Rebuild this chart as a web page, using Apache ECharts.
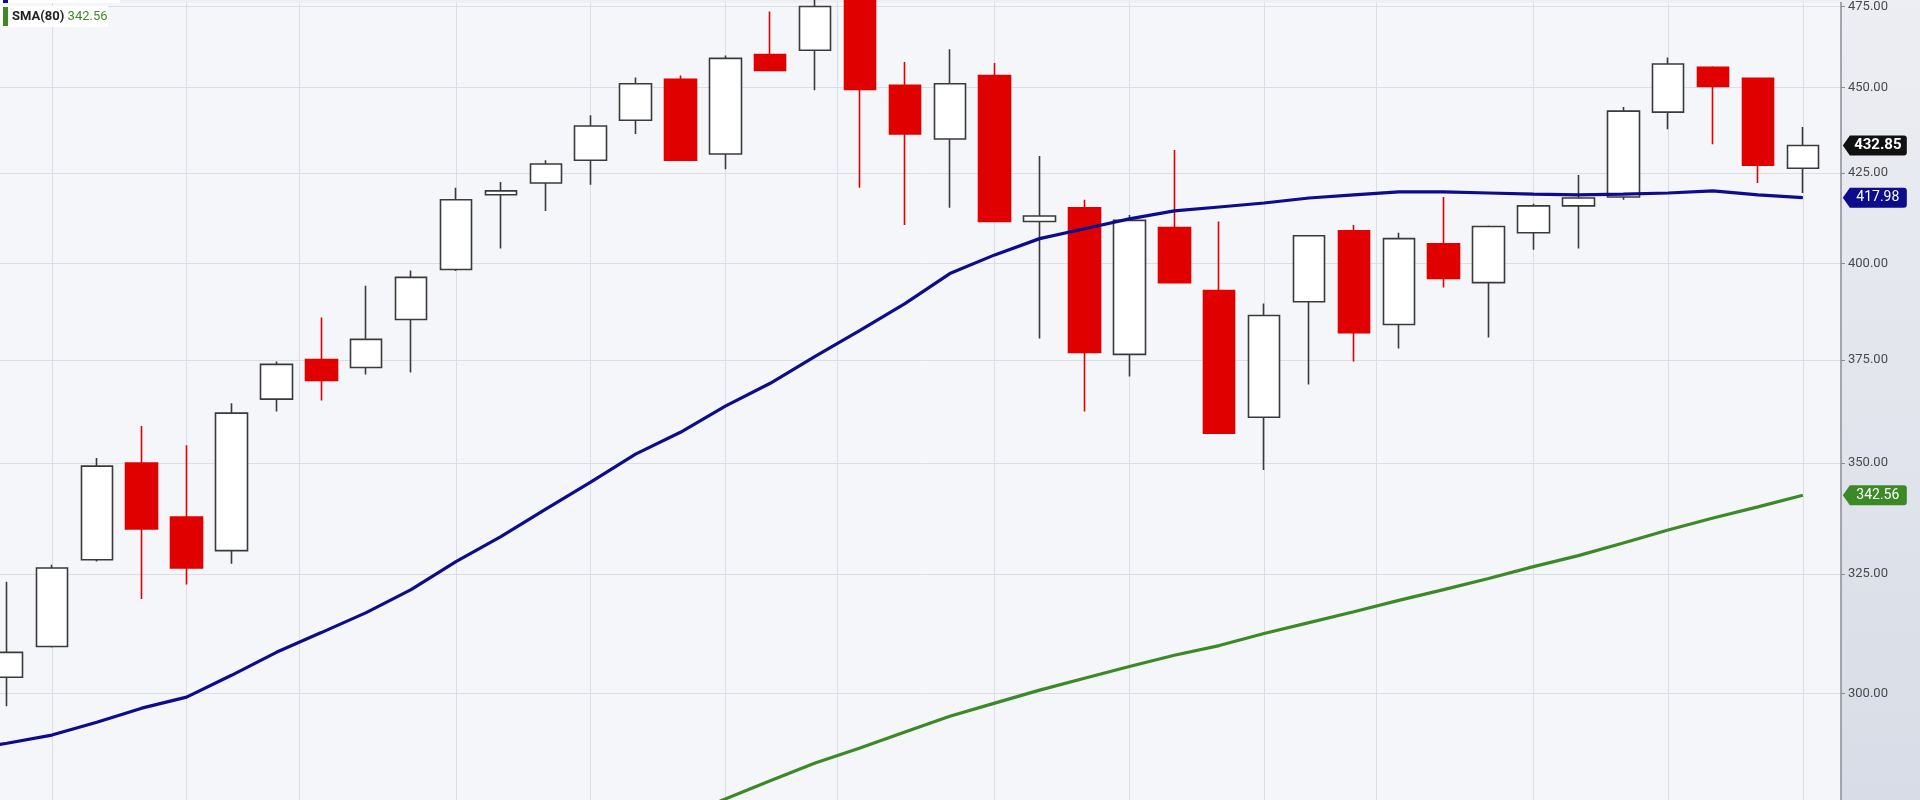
<!DOCTYPE html>
<html><head><meta charset="utf-8">
<script src="https://cdn.jsdelivr.net/npm/echarts@6/dist/echarts.min.js"></script>
<style>
html,body{margin:0;padding:0;}
#c{width:1920px;height:800px;background:linear-gradient(to bottom,#eceef3,#d8dce6);}
</style>
</head><body><div id="c"></div>
<script>
// ---- data (weekly candles, index 0..40) ----
const opens  = [303.3,309.6,328.1,350.0,337.6,330.1,365.3,375.1,373.1,385.3,398.4,418.8,422.1,428.6,440.2,452.4,430.4,460.0,461.3,480.0,450.6,434.7,453.6,411.4,415.2,376.4,409.7,392.8,360.9,389.9,408.8,384.0,405.3,394.9,408.3,415.7,418.2,442.6,456.1,452.7,426.3];
const closes = [308.4,326.3,349.3,334.9,326.3,361.9,373.9,369.9,380.2,396.3,417.4,419.9,427.5,438.5,451.1,428.6,458.8,455.1,475.0,449.4,436.2,451.1,411.4,412.9,376.9,411.7,394.9,357.1,386.3,407.5,381.9,406.7,396.0,410.0,415.7,417.9,442.9,457.1,450.3,427.2,432.85];
const lows   = [297.5,309.4,327.7,319.6,322.7,327.2,362.3,365.0,371.4,371.9,398.0,404.0,414.3,421.6,436.2,428.4,426.0,455.0,449.1,420.8,410.4,415.2,411.2,380.4,362.3,370.9,394.7,357.0,348.4,368.9,374.6,377.9,393.6,380.7,403.7,404.0,417.4,437.6,433.2,422.1,419.3];
const highs  = [323.3,327.0,351.2,358.8,354.2,364.3,374.6,385.8,394.1,398.1,420.8,422.4,428.6,441.7,453.0,453.6,459.7,473.4,478.0,484.0,457.7,461.6,457.4,429.8,417.4,413.2,431.5,411.4,389.4,407.7,410.4,408.3,418.2,410.3,416.3,424.4,444.1,459.1,456.4,453.0,438.2];
// short SMA starts one week before the first visible candle (index -1)
const smaShortStart = -1;
const smaShort = [288.9,290.2,291.8,294.3,297.1,299.3,303.7,308.4,312.5,316.7,321.6,327.7,333.2,339.4,345.6,352.1,357.3,363.6,369.2,375.9,382.5,389.4,397.3,402.3,406.7,409.4,412.1,414.3,415.4,416.5,417.9,418.8,419.6,419.6,419.3,419.0,418.8,419.0,419.3,419.9,418.8,417.98];
const sma80Start = 15;
const sma80 = [276.1,279.6,283.0,286.4,289.3,292.4,295.5,298.1,300.7,303.1,305.5,307.8,309.8,312.3,314.6,316.9,319.3,321.6,324.0,326.6,329.0,331.8,334.7,337.4,339.9,342.56];
const yTicks = [300,325,350,375,400,425,450,475];
const xGridLines = [1,4,6.5,10,13,16,18.5,22,25,28,30.5,34,37,40];
const shortLabel = 'SMA(20)';
const longLabel = 'SMA(80)';

// ---- build ----
const candleData = opens.map((o,i)=>[i,o,closes[i],lows[i],highs[i]]);
const shortData = smaShort.map((v,i)=>[i+smaShortStart,v]);
const longData = sma80.map((v,i)=>[i+sma80Start,v]);
const lastIdx = opens.length-1;
const TAG = 'path://M0,10L7,0H61Q64,0 64,3V17Q64,20 61,20H7Z';
function tag(value, color, bold){
  return {
    symbol: TAG, symbolSize:[64,20], symbolOffset:[72,0], symbolKeepAspect:false, silent:true,
    label:{show:true, position:'inside', color:'#fff', fontSize: bold?15:14, fontFamily:'Roboto',
      fontWeight: bold?'bold':'normal', offset:[3,0], formatter: value.toFixed(2)},
    itemStyle:{color: color},
    data:[{coord:[lastIdx, value]}]
  };
}
const chart = echarts.init(document.getElementById('c'), null, {renderer:'canvas'});
chart.setOption({
  animation:false,
  grid:{left:0,right:79,top:0,bottom:0,show:true,backgroundColor:'#f5f6fa',borderWidth:0},
  xAxis:{type:'value', min:-0.156, max:40.85,
    axisLine:{show:false, onZero:false}, axisTick:{show:false, customValues:xGridLines},
    axisLabel:{show:false, customValues:xGridLines},
    splitLine:{show:true, lineStyle:{color:'#dcdee5', width:1}}},
  yAxis:{type:'log', logBase:10, position:'right', min:279.4, max:476.27,
    axisLine:{show:true, onZero:false, lineStyle:{color:'#8a8d95', width:1.5}},
    axisTick:{show:true, length:4, customValues:yTicks, lineStyle:{color:'#8a8d95'}},
    axisLabel:{customValues:yTicks, formatter:v=>Number(v).toFixed(2), color:'#4a4a4a', fontSize:13, margin:7, fontFamily:'Roboto'},
    splitLine:{show:true, lineStyle:{color:'#dcdee5', width:1}}},
  series:[
    {type:'candlestick', data:candleData, encode:{x:0,y:[1,2,3,4]}, barWidth:32, z:2,
      itemStyle:{color:'#ffffff', color0:'#e00000', borderColor:'#3a3a3a', borderColor0:'#e00000', borderWidth:1.6},
      markPoint: tag(closes[lastIdx], '#111111', true)},
    {type:'line', data:shortData, symbol:'none', z:3, lineStyle:{color:'#0c0c8c', width:3.2},
      markPoint: tag(smaShort[smaShort.length-1], '#0c0c8c', false)},
    {type:'line', data:longData, symbol:'none', z:3, lineStyle:{color:'#3b8a26', width:3.2},
      markPoint: tag(sma80[sma80.length-1], '#3b8a26', false)}
  ],
  graphic:[
    {type:'rect', z:100, shape:{x:0,y:-17,width:120,height:20}, style:{fill:'#ffffff'}},
    {type:'rect', z:101, shape:{x:3,y:-16,width:5,height:19}, style:{fill:'#0c0c8c'}},
    {type:'text', z:101, x:12, y:-7, style:{text:shortLabel+' '+smaShort[smaShort.length-1].toFixed(2), fill:'#222', font:'bold 13px Roboto', verticalAlign:'middle'}},
    {type:'rect', z:100, shape:{x:0,y:6,width:108,height:21}, style:{fill:'#ffffff'}},
    {type:'rect', z:101, shape:{x:3,y:7,width:5,height:19}, style:{fill:'#3b8a26'}},
    {type:'text', z:101, x:12, y:17, style:{
      text:'{a|'+longLabel+'} {b|'+sma80[sma80.length-1].toFixed(2)+'}',
      verticalAlign:'middle',
      rich:{a:{fill:'#222', fontSize:13, fontWeight:'bold', fontFamily:'Roboto'}, b:{fill:'#3b8a26', fontSize:13, fontFamily:'Roboto'}}}}
  ]
});
</script>
</body></html>
